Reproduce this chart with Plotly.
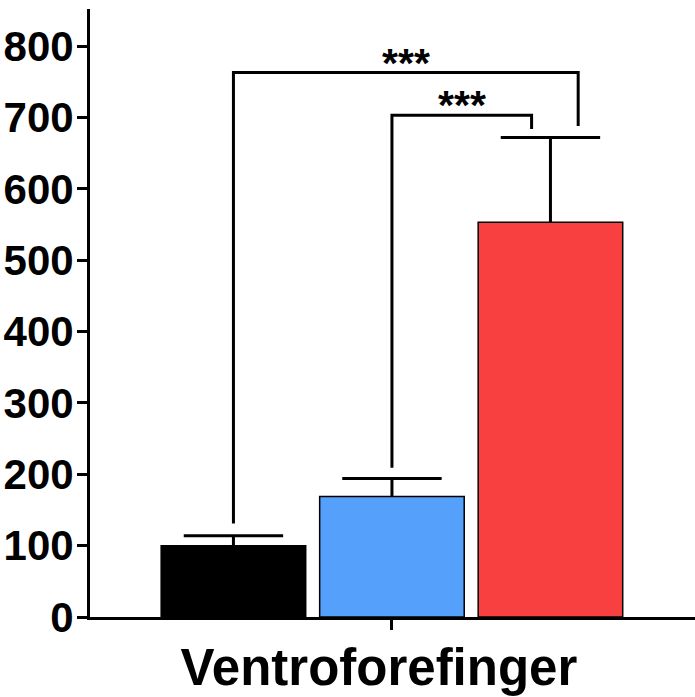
import plotly.graph_objects as go

# ---- data ----
groups = ["Control", "Group B", "Group C"]
means = [100, 169, 553]
errors_up = [14, 25, 119]
bar_colors = ["#000000", "#55A0FB", "#F84041"]
category_label = "Ventroforefinger"
y_ticks = [0, 100, 200, 300, 400, 500, 600, 700, 800]

# significance brackets: (left group idx, right group idx, bracket level,
#                         left leg bottom, right leg bottom, right-end offset, label)
brackets = [
    (0, 2, 763, 131, 688, 0.175, "***"),
    (1, 2, 703, 209, 684, -0.119, "***"),
]

FONT = "Arial, Liberation Sans, sans-serif"
xs = list(range(len(groups)))
err_tops = [m + e for m, e in zip(means, errors_up)]

fig = go.Figure()
fig.add_trace(go.Bar(
    x=xs, y=means, width=0.912,
    marker=dict(color=bar_colors, line=dict(color="black", width=1.5)),
    error_y=dict(type="data", symmetric=False, array=errors_up,
                 arrayminus=[0] * len(means), color="black",
                 thickness=3, width=0),
    showlegend=False, hoverinfo="skip",
))
# error bar caps
fig.add_trace(go.Scatter(
    x=xs, y=err_tops, mode="markers",
    marker=dict(symbol="line-ew", size=71, line=dict(color="black", width=3)),
    showlegend=False, hoverinfo="skip",
))

annotations = []
for (a, b, level, lb, rb, off, txt) in brackets:
    xl = xs[a]
    xr = xs[b] + off
    fig.add_trace(go.Scatter(
        x=[xl, xl, xr, xr], y=[lb, level, level, rb],
        mode="lines", line=dict(color="black", width=3),
        showlegend=False, hoverinfo="skip",
    ))
    annotations.append(dict(
        x=(xl + xr) / 2, y=level, xref="x", yref="y", text="<b>%s</b>" % txt,
        showarrow=False, yanchor="bottom", yshift=-15,
        font=dict(family=FONT, size=41, color="black"),
    ))

fig.update_layout(
    width=695, height=697,
    margin=dict(l=90, r=0, t=9, b=80, autoexpand=False),
    plot_bgcolor="white", paper_bgcolor="white",
    annotations=annotations,
    font=dict(family=FONT, color="black"),
)
fig.update_xaxes(
    range=[-0.905, 2.912], tickvals=[1], ticktext=["<b>%s</b>" % category_label],
    tickfont=dict(family=FONT, size=51, color="black"),
    showline=True, linecolor="black", linewidth=3,
    ticks="outside", ticklen=10, tickwidth=3, tickcolor="black",
    ticklabelstandoff=-6, ticklabelshift=-13,
    showgrid=False, zeroline=False, automargin=False,
)
fig.update_yaxes(
    range=[0, 852], tickvals=y_ticks, ticktext=["<b>%d</b>" % v for v in y_ticks],
    tickfont=dict(family=FONT, size=42, color="black"),
    showline=True, linecolor="black", linewidth=3,
    ticks="outside", ticklen=10, tickwidth=3, tickcolor="black",
    ticklabelstandoff=-5,
    showgrid=False, zeroline=False, automargin=False,
)

fig.write_html(
    "out.html",
    config={"displayModeBar": False},
    post_script="document.body.style.margin='0';document.body.style.overflow='hidden';",
)
